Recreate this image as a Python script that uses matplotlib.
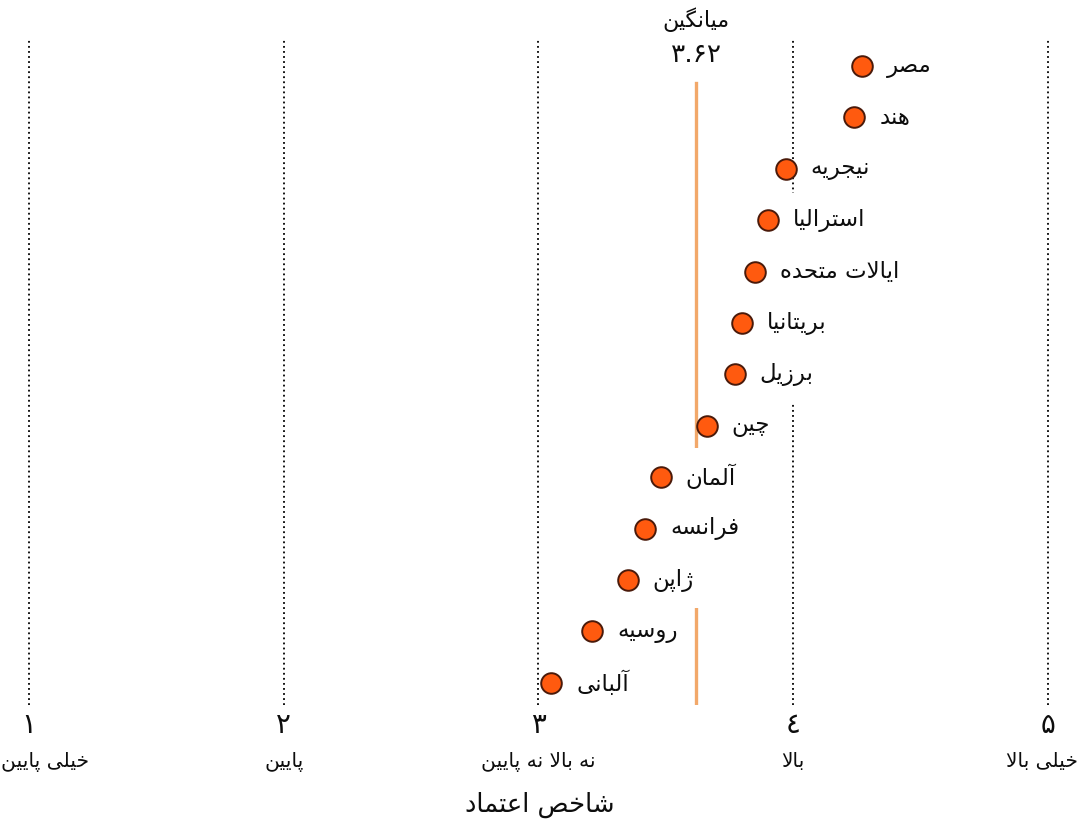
"""
نمودار شاخص اعتماد کشورها (dot plot)

matplotlib 3.10 متن عربی/فارسی را شکل‌دهی نمی‌کند، پس حروف را
خودمان به فرم‌های نمایشی تبدیل و ترتیب را برعکس می‌کنیم.
"""

import matplotlib
matplotlib.use('Agg')
import matplotlib.pyplot as plt
import matplotlib.transforms as mtransforms

plt.rcParams['font.family'] = ['DejaVu Sans']

# داده‌ها
countries = ['مصر', 'هند', 'نیجریه', 'استرالیا', 'ایالات متحده', 'بریتانیا',
             'برزیل', 'چین', 'آلمان', 'فرانسه', 'ژاپن', 'روسیه', 'آلبانی']
scores = [4.27, 4.24, 3.97, 3.90, 3.85, 3.80, 3.77, 3.66, 3.48, 3.42, 3.35, 3.21, 3.05]
mean_score = 3.62
mean_label = '۳.۶۲'
tick_values = [1, 2, 3, 4, 5]
tick_digits = ['۱', '۲', '۳', '٤', '۵']
tick_names = ['خیلی پایین', 'پایین', 'نه بالا نه پایین', 'بالا', 'خیلی بالا']
x_title = 'شاخص اعتماد'
mean_title = 'میانگین'

# فرم‌های نمایشی: (تنها، پایانی، آغازی، میانی)
FORMS = {
    'ا': (0xFE8D, 0xFE8E), 'آ': (0xFE81, 0xFE82),
    'ب': (0xFE8F, 0xFE90, 0xFE91, 0xFE92), 'پ': (0xFB56, 0xFB57, 0xFB58, 0xFB59),
    'ت': (0xFE95, 0xFE96, 0xFE97, 0xFE98), 'ث': (0xFE99, 0xFE9A, 0xFE9B, 0xFE9C),
    'ج': (0xFE9D, 0xFE9E, 0xFE9F, 0xFEA0), 'چ': (0xFB7A, 0xFB7B, 0xFB7C, 0xFB7D),
    'ح': (0xFEA1, 0xFEA2, 0xFEA3, 0xFEA4), 'خ': (0xFEA5, 0xFEA6, 0xFEA7, 0xFEA8),
    'د': (0xFEA9, 0xFEAA), 'ذ': (0xFEAB, 0xFEAC), 'ر': (0xFEAD, 0xFEAE),
    'ز': (0xFEAF, 0xFEB0), 'ژ': (0xFB8A, 0xFB8B),
    'س': (0xFEB1, 0xFEB2, 0xFEB3, 0xFEB4), 'ش': (0xFEB5, 0xFEB6, 0xFEB7, 0xFEB8),
    'ص': (0xFEB9, 0xFEBA, 0xFEBB, 0xFEBC), 'ض': (0xFEBD, 0xFEBE, 0xFEBF, 0xFEC0),
    'ط': (0xFEC1, 0xFEC2, 0xFEC3, 0xFEC4), 'ظ': (0xFEC5, 0xFEC6, 0xFEC7, 0xFEC8),
    'ع': (0xFEC9, 0xFECA, 0xFECB, 0xFECC), 'غ': (0xFECD, 0xFECE, 0xFECF, 0xFED0),
    'ف': (0xFED1, 0xFED2, 0xFED3, 0xFED4), 'ق': (0xFED5, 0xFED6, 0xFED7, 0xFED8),
    'ک': (0xFB8E, 0xFB8F, 0xFB90, 0xFB91), 'گ': (0xFB92, 0xFB93, 0xFB94, 0xFB95),
    'ل': (0xFEDD, 0xFEDE, 0xFEDF, 0xFEE0), 'م': (0xFEE1, 0xFEE2, 0xFEE3, 0xFEE4),
    'ن': (0xFEE5, 0xFEE6, 0xFEE7, 0xFEE8), 'ه': (0xFEE9, 0xFEEA, 0xFEEB, 0xFEEC),
    'و': (0xFEED, 0xFEEE), 'ی': (0xFBFC, 0xFBFD, 0xFBFE, 0xFBFF),
    'ئ': (0xFE89, 0xFE8A, 0xFE8B, 0xFE8C),
}
LAM_ALEF = {'ا': (0xFEFB, 0xFEFC), 'آ': (0xFEF5, 0xFEF6)}


def dual(c):
    return c in FORMS and len(FORMS[c]) == 4


def fa(text):
    """شکل‌دهی ساده و برعکس کردن برای نمایش راست‌به‌چپ"""
    out = []
    i = 0
    n = len(text)
    while i < n:
        c = text[i]
        if c not in FORMS:
            out.append(c)
            i += 1
            continue
        prev_joins = i > 0 and dual(text[i - 1])
        if c == 'ل' and i + 1 < n and text[i + 1] in LAM_ALEF:
            iso, fin = LAM_ALEF[text[i + 1]]
            out.append(chr(fin if prev_joins else iso))
            i += 2
            continue
        f = FORMS[c]
        next_joins = dual(c) and i + 1 < n and text[i + 1] in FORMS
        if prev_joins and next_joins:
            out.append(chr(f[3]))
        elif next_joins:
            out.append(chr(f[2]))
        elif prev_joins:
            out.append(chr(f[1]))
        else:
            out.append(chr(f[0]))
        i += 1
    return ''.join(reversed(out))


def shift(trans, dx, dy):
    return mtransforms.offset_copy(trans, fig=fig, x=dx, y=dy, units='dots')


fig = plt.figure(figsize=(10.8, 8.4), dpi=100)
ax = fig.add_axes([0, 1 - 705 / 840, 1, 665 / 840])
ax.set_xlim(0.886, 5.126)
ax.set_ylim(len(countries) - 1 + 0.43, -0.506)
ax.axis('off')

TXT = '#0d0d0d'

# خطوط شبکه نقطه‌چین
for v in tick_values:
    ax.axvline(v, color='#000000', linestyle=(0, (1, 1.8)), linewidth=1.3, zorder=1)

# خط میانگین
ax.axvline(mean_score, ymin=0, ymax=0.935, color='#F2A86A', linewidth=2.4, zorder=2)

y = list(range(len(countries)))
ax.scatter(scores, y, s=220, color='#FF5A0F', edgecolor='#4A1A0A',
           linewidth=1.4, zorder=5)

for name, s, yi in zip(countries, scores, y):
    ax.text(s, yi, fa(name), transform=shift(ax.transData, 25, 0), ha='left', va='center',
            fontsize=16.5, color=TXT, zorder=4,
            bbox=dict(boxstyle='square,pad=0.7', facecolor='white', edgecolor='none'))

# عنوان میانگین
trans = mtransforms.blended_transform_factory(ax.transData, ax.transAxes)
ax.text(mean_score, 1, fa(mean_title), ha='center', va='center', fontsize=16,
        color=TXT, transform=shift(trans, 0, 20))
ax.text(mean_score, 1, mean_label, ha='center', va='center', fontsize=19,
        color=TXT, transform=shift(trans, 0, -15))

# برچسب‌های محور افقی
for i, (v, d, nm) in enumerate(zip(tick_values, tick_digits, tick_names)):
    ax.text(v, 0, d, transform=shift(trans, 0, -20),
            ha='center', va='center', fontsize=20, color=TXT)
    if i == 0:
        fig.text(0.001, 1 - 762 / 840, fa(nm), ha='left', va='center', fontsize=14.5, color=TXT)
    elif i == len(tick_values) - 1:
        fig.text(0.998, 1 - 762 / 840, fa(nm), ha='right', va='center', fontsize=14.5, color=TXT)
    else:
        ax.text(v, 0, fa(nm), transform=shift(trans, 0, -57),
                ha='center', va='center', fontsize=14.5, color=TXT)

fig.text(0.5, 1 - 805 / 840, fa(x_title), ha='center', va='center', fontsize=18.5, color=TXT)

fig.savefig('out.png', dpi=100)
